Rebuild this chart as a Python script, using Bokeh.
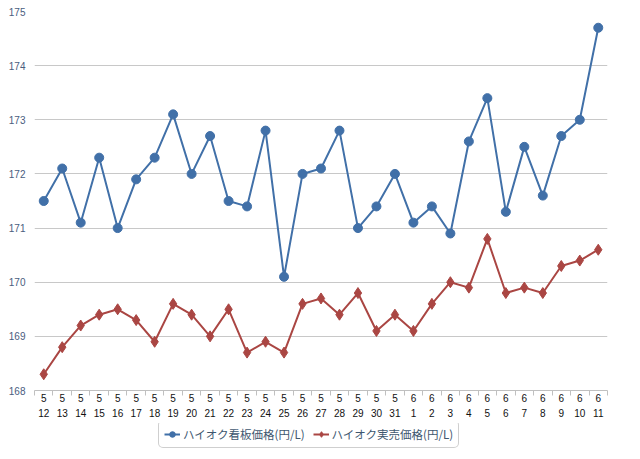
from bokeh.plotting import figure
from bokeh.models import FixedTicker, Legend, LegendItem, ColumnDataSource, Range1d
from bokeh.layouts import column
from bokeh.embed import file_html
from bokeh.resources import INLINE

months = [5]*20 + [6]*11
days = list(range(12, 32)) + list(range(1, 12))
kanban = [171.5, 172.1, 171.1, 172.3, 171.0, 171.9, 172.3, 173.1, 172.0, 172.7,
          171.5, 171.4, 172.8, 170.1, 172.0, 172.1, 172.8, 171.0, 171.4, 172.0,
          171.1, 171.4, 170.9, 172.6, 173.4, 171.3, 172.5, 171.6, 172.7, 173.0, 174.7]
jitsubai = [168.3, 168.8, 169.2, 169.4, 169.5, 169.3, 168.9, 169.6, 169.4, 169.0,
            169.5, 168.7, 168.9, 168.7, 169.6, 169.7, 169.4, 169.8, 169.1, 169.4,
            169.1, 169.6, 170.0, 169.9, 170.8, 169.8, 169.9, 169.8, 170.3, 170.4, 170.6]
y_ticks = [168, 169, 170, 171, 172, 173, 174, 175]
series_names = ["ハイオク看板価格(円/L)", "ハイオク実売価格(円/L)"]

idx = list(range(len(days)))
src = ColumnDataSource(dict(x=idx, a=kanban, b=jitsubai))

BLUE = "#4170a8"
RED = "#aa4643"


def draw(fig):
    la = fig.line("x", "a", source=src, line_color=BLUE, line_width=2)
    sa = fig.scatter("x", "a", source=src, marker="circle", size=9, fill_color=BLUE, line_color=BLUE)
    lb = fig.line("x", "b", source=src, line_color=RED, line_width=2)
    sb = fig.scatter("x", "b", source=src, marker="diamond", size=11, fill_color=RED, line_color=RED)
    return la, sa, lb, sb


p = figure(frame_width=573, frame_height=379, output_backend="svg", toolbar_location=None,
           x_range=Range1d(-0.5, len(days) - 0.5), y_range=Range1d(168, 175),
           min_border_left=34, min_border_right=25, min_border_top=11, min_border_bottom=33)
p.outline_line_color = None
p.background_fill_color = "white"
p.border_fill_color = "white"
draw(p)

# x axis
xa = p.xaxis[0]
xa.ticker = FixedTicker(ticks=idx, minor_ticks=[i - 0.5 for i in range(len(days) + 1)])
xa.major_label_overrides = {i: f"{m}\n{d}" for i, (m, d) in enumerate(zip(months, days))}
xa.major_tick_line_color = None
xa.major_tick_out = 0
xa.minor_tick_out = 5
xa.minor_tick_in = 0
xa.minor_tick_line_color = "#c0c0c0"
xa.axis_line_color = "#c0c0c0"
xa.major_label_standoff = -3
xa.major_label_text_font = "Liberation Sans"
xa.major_label_text_font_size = "10px"
xa.major_label_text_color = "#111111"
xa.major_label_text_line_height = 1.4

# y axis
ya = p.yaxis[0]
ya.ticker = FixedTicker(ticks=y_ticks, minor_ticks=[])
ya.axis_line_color = None
ya.major_tick_line_color = None
ya.major_tick_out = 0
ya.minor_tick_line_color = None
ya.major_label_standoff = 9
ya.major_label_text_font = "Liberation Sans"
ya.major_label_text_font_size = "10px"
ya.major_label_text_color = "#4a5d7e"

p.xgrid.grid_line_color = None
p.ygrid.grid_line_color = "#c8c8c8"
p.ygrid.grid_line_width = 1

# legend strip below the chart (its renderers lie outside its ranges)
q = figure(width=632, height=28, output_backend="svg", toolbar_location=None,
           x_range=Range1d(-1000, -999), y_range=Range1d(-1000, -999),
           x_axis_location=None, y_axis_location=None, min_border=0)
q.outline_line_color = None
q.grid.visible = False
q.background_fill_color = "white"
q.border_fill_color = "white"
la, sa, lb, sb = draw(q)

legend = Legend(items=[LegendItem(label=series_names[0], renderers=[la, sa]),
                       LegendItem(label=series_names[1], renderers=[lb, sb])],
                orientation="horizontal", location=(124, 3))
legend.label_text_font = "Noto Sans CJK JP"
legend.label_text_font_size = "11.5px"
legend.label_text_color = "#3e576f"
legend.border_line_color = "#a0a0a0"
legend.border_line_width = 1
legend.background_fill_color = "white"
legend.glyph_height = 14
legend.glyph_width = 16
legend.label_standoff = 3
legend.spacing = 8
legend.padding = 5
legend.margin = 0
if "border_radius" in Legend.properties():
    legend.border_radius = 5
q.add_layout(legend, "center")

open("out.html", "w").write(file_html(column(p, q), INLINE))
